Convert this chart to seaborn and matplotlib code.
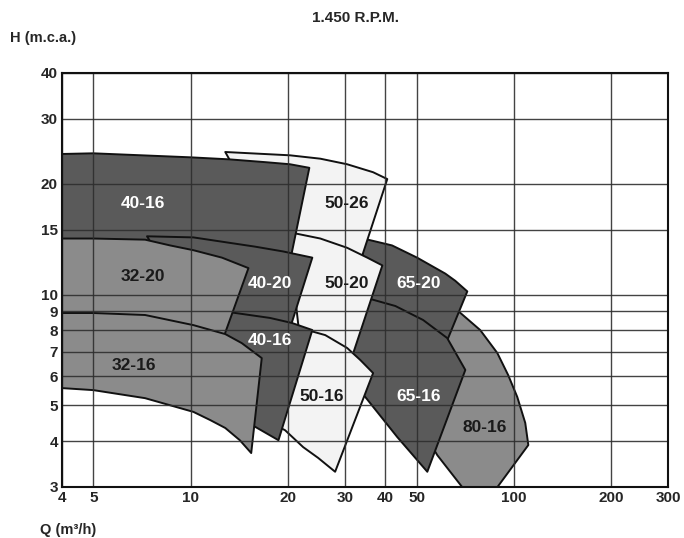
import matplotlib
matplotlib.use('Agg')
import matplotlib.pyplot as plt
import seaborn as sns
from matplotlib.ticker import NullLocator

# Axis ticks
x_ticks = [4, 5, 10, 20, 30, 40, 50, 100, 200, 300]
y_ticks = [3, 4, 5, 6, 7, 8, 9, 10, 15, 20, 30, 40]

# Pump ranges: upper curve (top) and lower curve (bot), Q in m3/h, H in m
q_40_16a_top = [4, 5, 10, 13.2, 17.0, 20.3, 23.3]
h_40_16a_top = [24.1, 24.2, 23.6, 23.3, 22.9, 22.6, 22.1]
q_40_16a_bot = [4, 7.5, 20.3]
h_40_16a_bot = [12.8, 12.6, 12.3]

q_50_26_top = [12.8, 20.3, 25.2, 30.5, 36.7, 40.6]
h_50_26_top = [24.4, 23.9, 23.4, 22.6, 21.5, 20.6]
q_50_26_bot = [18.9, 33.5]
h_50_26_bot = [13.2, 12.3]

q_50_20_top = [20.0, 25.2, 30.5, 35.2, 39.2]
h_50_20_top = [14.8, 14.2, 13.4, 12.6, 12.0]
q_50_20_bot = [21.8, 31.2]
h_50_20_bot = [7.52, 6.56]

q_50_16_top = [21.8, 26.1, 30.5, 33.5, 36.7]
h_50_16_top = [8.11, 7.76, 7.16, 6.64, 6.12]
q_50_16_bot = [17.0, 19.6, 22.3, 24.8, 28.0]
h_50_16_bot = [4.56, 4.28, 3.85, 3.60, 3.30]

q_40_20_top = [7.33, 10.2, 15.8, 19.3, 23.8]
h_40_20_top = [14.4, 14.3, 13.5, 13.1, 12.6]
q_40_20_bot = [10.7, 14.2, 20.0]
h_40_20_bot = [8.42, 8.26, 7.76]

q_40_16b_top = [12.5, 17.6, 20.6, 23.8]
h_40_16b_top = [9.02, 8.64, 8.37, 8.01]
q_40_16b_bot = [13.7, 15.5, 18.7]
h_40_16b_bot = [4.71, 4.42, 4.02]

q_32_20_top = [4, 5, 7.23, 8.64, 10.2, 12.5, 15.1]
h_32_20_top = [14.2, 14.2, 14.1, 13.6, 13.2, 12.6, 11.8]
q_32_20_bot = [4, 7.49, 12.4]
h_32_20_bot = [8.26, 8.01, 7.29]

q_32_16_top = [4, 5, 7.23, 10.2, 12.8, 14.4, 16.6]
h_32_16_top = [8.91, 8.91, 8.80, 8.26, 7.81, 7.38, 6.72]
q_32_16_bot = [4, 5, 7.23, 10.2, 11.5, 12.8, 14.2, 15.4]
h_32_16_bot = [5.57, 5.50, 5.23, 4.80, 4.56, 4.34, 4.02, 3.71]

q_65_20_top = [34.2, 42.0, 50.2, 61.4, 65.9, 71.8]
h_65_20_top = [14.2, 13.6, 12.6, 11.4, 10.9, 10.2]
q_65_20_bot = [33.5, 44.5, 60.5]
h_65_20_bot = [8.53, 8.01, 7.07]

q_65_16_top = [34.2, 43.0, 52.4, 62.2, 70.8]
h_65_16_top = [9.85, 9.31, 8.53, 7.62, 6.24]
q_65_16_bot = [30.1, 34.7, 43.6, 54.0]
h_65_16_bot = [5.86, 5.27, 4.10, 3.30]

q_80_16_top = [59.2, 67.8, 78.7, 88.9, 96.1, 102.5, 108.5, 110.9]
h_80_16_top = [10.3, 8.97, 8.01, 6.94, 6.04, 5.27, 4.48, 3.90]
q_80_16_bot = [47.8, 58.0, 76.5, 81.0]
h_80_16_bot = [4.86, 3.66, 2.68, 2.68]

dark = '#5a5a5a'
mid = '#8b8b8b'
light = '#f3f3f3'

# drawn back to front: name, top q/h, bottom q/h, fill, text colour, label position
regions = [
    ('80-16', q_80_16_top, h_80_16_top, q_80_16_bot, h_80_16_bot, mid, '#1a1a1a', (81.0, 4.34)),
    ('65-20', q_65_20_top, h_65_20_top, q_65_20_bot, h_65_20_bot, dark, 'white', (50.6, 10.7)),
    ('65-16', q_65_16_top, h_65_16_top, q_65_16_bot, h_65_16_bot, dark, 'white', (50.6, 5.30)),
    ('50-26', q_50_26_top, h_50_26_top, q_50_26_bot, h_50_26_bot, light, '#1a1a1a', (30.5, 17.7)),
    ('50-20', q_50_20_top, h_50_20_top, q_50_20_bot, h_50_20_bot, light, '#1a1a1a', (30.5, 10.7)),
    ('50-16', q_50_16_top, h_50_16_top, q_50_16_bot, h_50_16_bot, light, '#1a1a1a', (25.5, 5.30)),
    ('40-16', q_40_16a_top, h_40_16a_top, q_40_16a_bot, h_40_16a_bot, dark, 'white', (7.12, 17.7)),
    ('40-20', q_40_20_top, h_40_20_top, q_40_20_bot, h_40_20_bot, dark, 'white', (17.6, 10.7)),
    ('40-16', q_40_16b_top, h_40_16b_top, q_40_16b_bot, h_40_16b_bot, dark, 'white', (17.6, 7.52)),
    ('32-20', q_32_20_top, h_32_20_top, q_32_20_bot, h_32_20_bot, mid, '#1a1a1a', (7.12, 11.2)),
    ('32-16', q_32_16_top, h_32_16_top, q_32_16_bot, h_32_16_bot, mid, '#1a1a1a', (6.68, 6.40)),
]

sns.set_theme(style='white')
plt.rcParams['font.family'] = ['Liberation Sans', 'DejaVu Sans']

fig = plt.figure(figsize=(6.84, 5.38), dpi=100)
ax = fig.add_axes([62 / 684, 1 - 487 / 538, 606 / 684, 414 / 538])
ax.set_xscale('log')
ax.set_yscale('log')

for name, qt, ht, qb, hb, fc, tc, (lq, lh) in regions:
    qs = list(qt) + list(qb)[::-1]
    hs = list(ht) + list(hb)[::-1]
    ax.fill(qs, hs, facecolor=fc, edgecolor='#111111', linewidth=1.4,
            joinstyle='round', zorder=1)
    ax.text(lq, lh, name, ha='center', va='center', fontsize=12.5,
            fontweight='bold', color=tc, zorder=4)

ax.set_xlim(4, 300)
ax.set_ylim(3, 40)
ax.set_xticks(x_ticks, labels=[str(v) for v in x_ticks])
ax.set_yticks(y_ticks, labels=[str(v) for v in y_ticks])
ax.xaxis.set_minor_locator(NullLocator())
ax.yaxis.set_minor_locator(NullLocator())
ax.set_axisbelow(False)
ax.grid(True, which='major', color='#2e2e2e', linewidth=1.0, alpha=0.9)
ax.tick_params(length=0, labelsize=11, pad=3)
for lab in ax.get_xticklabels() + ax.get_yticklabels():
    lab.set_fontweight('bold')
for sp in ax.spines.values():
    sp.set_color('#111111')
    sp.set_linewidth(1.5)
    sp.set_zorder(5)

fig.text(355 / 684, 1 - 18 / 538, '1.450 R.P.M.', ha='center', va='center',
         fontsize=11, fontweight='bold')
fig.text(10 / 684, 1 - 38 / 538, 'H (m.c.a.)', ha='left', va='center',
         fontsize=10.5, fontweight='bold')
fig.text(40 / 684, 1 - 530 / 538, 'Q (m³/h)', ha='left', va='center',
         fontsize=10.5, fontweight='bold')

fig.savefig('out.png', dpi=100)
